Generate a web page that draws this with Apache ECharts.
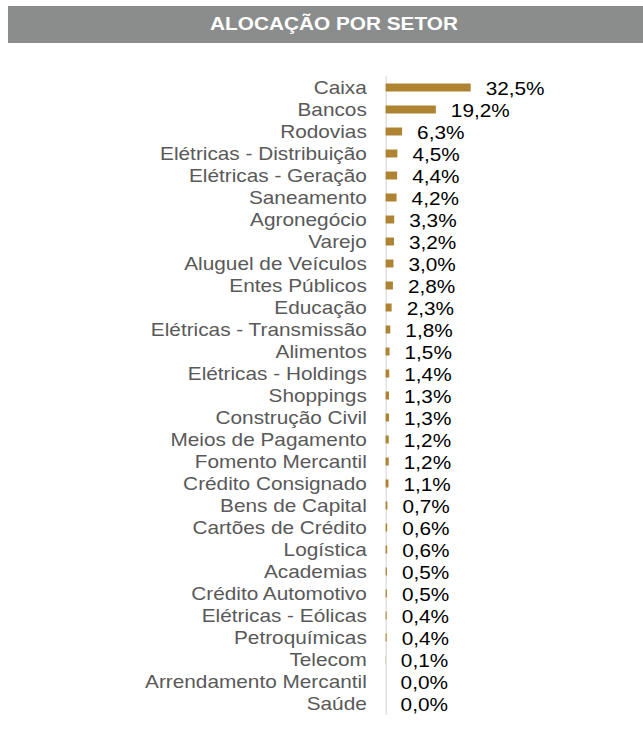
<!DOCTYPE html>
<html><head><meta charset="utf-8">
<script src="https://cdn.jsdelivr.net/npm/echarts@6/dist/echarts.min.js"></script>
<style>
html,body{margin:0;padding:0;background:#fff;overflow:hidden;width:643px;height:730px}
#c{width:557px;height:730px;transform:scaleX(1.1545);transform-origin:0 0}
</style>
</head><body><div id="c"></div>
<script>
const titleText = 'ALOCAÇÃO POR SETOR';
const categories = ['Caixa','Bancos','Rodovias','Elétricas - Distribuição','Elétricas - Geração','Saneamento','Agronegócio','Varejo','Aluguel de Veículos','Entes Públicos','Educação','Elétricas - Transmissão','Alimentos','Elétricas - Holdings','Shoppings','Construção Civil','Meios de Pagamento','Fomento Mercantil','Crédito Consignado','Bens de Capital','Cartões de Crédito','Logística','Academias','Crédito Automotivo','Elétricas - Eólicas','Petroquímicas','Telecom','Arrendamento Mercantil','Saúde'];
const values = [32.5,19.2,6.3,4.5,4.4,4.2,3.3,3.2,3.0,2.8,2.3,1.8,1.5,1.4,1.3,1.3,1.2,1.2,1.1,0.7,0.6,0.6,0.5,0.5,0.4,0.4,0.1,0.0,0.0];

const FONT = '"Liberation Sans", Arial, sans-serif';
const chart = echarts.init(document.getElementById('c'), null, {renderer:'svg'});
chart.setOption({
  animation: false,
  graphic: [
    {type:'rect', shape:{x:6.9,y:6,width:551,height:37}, style:{fill:'#8B8D8D'}},
    {type:'text', x:289.3, y:24, style:{text:titleText, fill:'#fff', font:'bold 18px ' + FONT, align:'center', verticalAlign:'middle'}}
  ],
  grid: {left:334, top:76.5, width:136, height:638, containLabel:false},
  xAxis: {type:'value', min:0, max:60, show:false},
  yAxis: {
    type:'category', data:categories, inverse:true,
    axisLine:{show:true, lineStyle:{color:'#d9d9d9', width:1}},
    axisTick:{show:false},
    axisLabel:{interval:0, hideOverlap:false, color:'#595959', fontSize:18, fontFamily:FONT, margin:16.3, padding:[6,0,0,0]}
  },
  series: [{
    type:'bar', data:values, barWidth:8,
    itemStyle:{color:'#AE8432'},
    label:{show:true, position:'right', distance:13, offset:[0,1], color:'#000', fontSize:18, fontFamily:FONT,
      formatter: p => p.value.toFixed(1).replace('.', ',') + '%'}
  }]
});
</script></body></html>
